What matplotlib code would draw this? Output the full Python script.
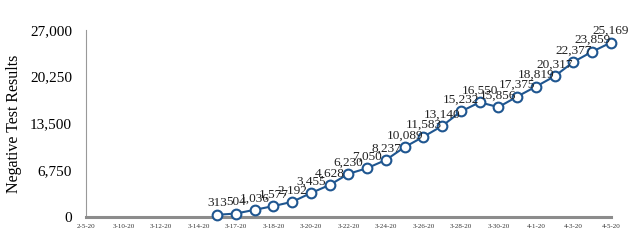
import matplotlib
matplotlib.use("Agg")
import matplotlib.pyplot as plt

# category axis: one label shown for every second day slot
tick_labels = ["2-5-20", "3-10-20", "3-12-20", "3-14-20", "3-17-20", "3-18-20",
               "3-20-20", "3-22-20", "3-24-20", "3-26-20", "3-28-20", "3-30-20",
               "4-1-20", "4-3-20", "4-5-20"]
n_slots = 29
first_slot = 7  # first slot that has a value

negatives = [313, 504, 1036, 1577, 2192, 3455, 4628, 6230, 7050, 8237, 10089,
             11583, 13140, 15232, 16550, 15856, 17375, 18819, 20317, 22377,
             23859, 25169]
yticks = [0, 6750, 13500, 20250, 27000]

blue = "#1f5690"
serif = ["Liberation Serif", "DejaVu Serif"]

fig = plt.figure(figsize=(6.34, 2.43), dpi=100)
ax = fig.add_axes([0.1356, 0.107, 0.828, 0.77])

xs = list(range(first_slot, first_slot + len(negatives)))
ax.plot(xs, negatives, color=blue, lw=1.5, marker="o", markersize=7,
        markerfacecolor="white", markeredgecolor=blue, markeredgewidth=1.5,
        zorder=3, clip_on=False)

for x, v in zip(xs, negatives):
    ax.annotate(f"{v:,}", (x, v), xytext=(0, 4), textcoords="offset points",
                ha="center", va="bottom", fontsize=9.5, family=serif,
                color="#222222")

ax.set_xlim(0, n_slots - 1)
ax.set_ylim(0, 27000)
ax.set_xticks(range(0, n_slots, 2))
ax.set_xticklabels(tick_labels, fontsize=5, family=serif, color="#333333")
ax.set_yticks(yticks)
ax.set_yticklabels([f"{t:,}" for t in yticks], fontsize=11, family=serif)
ax.tick_params(axis="both", length=0)
ax.tick_params(axis="y", pad=10)
ax.tick_params(axis="x", pad=5)

ax.set_ylabel("Negative Test Results", fontsize=11.5, family=serif, labelpad=6)

for s in ["top", "right"]:
    ax.spines[s].set_visible(False)
ax.spines["left"].set_color("#999999")
ax.spines["left"].set_linewidth(0.8)
ax.spines["bottom"].set_color("#8c8c8c")
ax.spines["bottom"].set_linewidth(2.2)

fig.savefig("out.png", dpi=100)
